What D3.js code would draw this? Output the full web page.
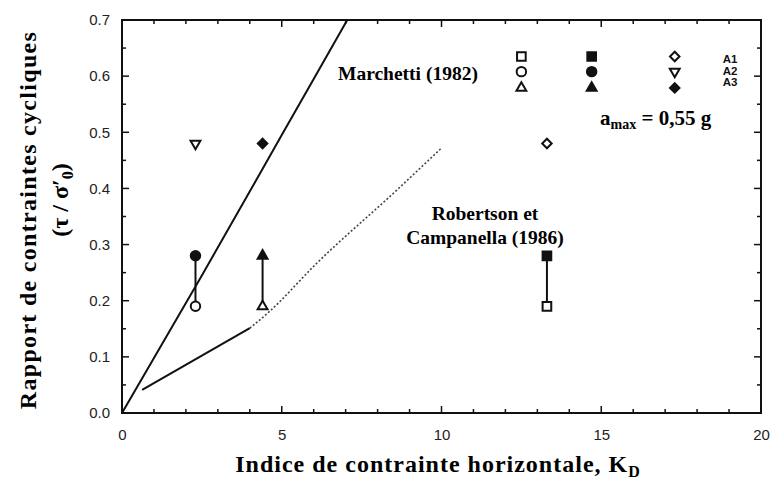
<!DOCTYPE html>
<html>
<head>
<meta charset="utf-8">
<script src="https://cdn.jsdelivr.net/npm/d3@7"></script>
<style>
  body { margin: 0; background: #fff; }
  svg { display: block; }
</style>
</head>
<body>
<div id="chart"></div>
<script>
// Data
var xTicks = [0, 5, 10, 15, 20];
var yTicks = [0.0, 0.1, 0.2, 0.3, 0.4, 0.5, 0.6, 0.7];

// essais : K_D, tau/sigma'0, symbole
var points = [
  { k: 2.3,  r: 0.19, sym: "circle",   fill: false },
  { k: 2.3,  r: 0.28, sym: "circle",   fill: true },
  { k: 2.3,  r: 0.48, sym: "triDown",  fill: false },
  { k: 4.4,  r: 0.19, sym: "triangle", fill: false },
  { k: 4.4,  r: 0.28, sym: "triangle", fill: true },
  { k: 4.4,  r: 0.48, sym: "diamond",  fill: true },
  { k: 13.3, r: 0.19, sym: "square",   fill: false },
  { k: 13.3, r: 0.28, sym: "square",   fill: true },
  { k: 13.3, r: 0.48, sym: "diamond",  fill: false }
];

// liaisons verticales entre paires
var links = [
  { k: 2.3,  from: 0.19, to: 0.28 },
  { k: 4.4,  from: 0.19, to: 0.28 },
  { k: 13.3, from: 0.19, to: 0.28 }
];

// légende (symboles)
var legendMarks = [
  { k: 12.5, r: 0.635, sym: "square",   fill: false },
  { k: 12.5, r: 0.608, sym: "circle",   fill: false },
  { k: 12.5, r: 0.579, sym: "triangle", fill: false },
  { k: 14.7, r: 0.635, sym: "square",   fill: true },
  { k: 14.7, r: 0.608, sym: "circle",   fill: true },
  { k: 14.7, r: 0.579, sym: "triangle", fill: true },
  { k: 17.3, r: 0.635, sym: "diamond",  fill: false },
  { k: 17.3, r: 0.608, sym: "triDown",  fill: false },
  { k: 17.3, r: 0.579, sym: "diamond",  fill: true }
];
var legendLabels = ["A1", "A2", "A3"];
var legendLabelY = [0.631, 0.609, 0.589];

// courbes
var marchetti = [[0, 0], [2.5, 0.245], [5, 0.495], [7.05, 0.7]];
var robertsonSolid = [[0.63, 0.041], [4.0, 0.151]];
var robertsonDotted = [[4.0, 0.151], [4.6, 0.18], [6.1, 0.267], [8.6, 0.397], [10.0, 0.472]];

var width = 773, height = 485;
var padLeft = 122, padRight = 761, padTop = 20, padBottom = 413;

var svg = d3.select("#chart").append("svg")
  .attr("width", width)
  .attr("height", height);

var x = d3.scaleLinear().domain([0, 20]).range([padLeft, padRight]);
var y = d3.scaleLinear().domain([0, 0.7]).range([padBottom, padTop]);

// Frame
svg.append("rect")
  .attr("x", padLeft).attr("y", padTop)
  .attr("width", padRight - padLeft).attr("height", padBottom - padTop)
  .style("fill", "none").style("stroke", "#111").style("stroke-width", 2);

// ticks inward
var xMinor = d3.range(0, 21, 1);
var yMinor = d3.range(0, 15).map(function (i) { return i * 0.05; });
var tg = svg.append("g").style("stroke", "#111").style("stroke-width", 1.5);
xMinor.forEach(function (v) {
  var len = v % 5 === 0 ? 7 : 4;
  tg.append("line").attr("x1", x(v)).attr("x2", x(v)).attr("y1", padBottom).attr("y2", padBottom - len);
  tg.append("line").attr("x1", x(v)).attr("x2", x(v)).attr("y1", padTop).attr("y2", padTop + len);
});
yMinor.forEach(function (v, i) {
  var len = i % 2 === 0 ? 7 : 4;
  tg.append("line").attr("x1", padLeft).attr("x2", padLeft + len).attr("y1", y(v)).attr("y2", y(v));
  tg.append("line").attr("x1", padRight).attr("x2", padRight - len).attr("y1", y(v)).attr("y2", y(v));
});

// Axis labels via d3 axes (labels only)
var xAxis = d3.axisBottom(x).tickValues(xTicks).tickSize(0).tickPadding(16).tickFormat(d3.format("d"));
var yAxis = d3.axisLeft(y).tickValues(yTicks).tickSize(0).tickPadding(12).tickFormat(d3.format(".1f"));

var gx = svg.append("g").attr("transform", "translate(0," + padBottom + ")").call(xAxis);
var gy = svg.append("g").attr("transform", "translate(" + padLeft + ",0)").call(yAxis);
[gx, gy].forEach(function (g) {
  g.select(".domain").remove();
  g.selectAll("text")
    .style("font-family", "Liberation Sans, Arial, sans-serif")
    .style("font-size", "15px")
    .style("fill", "#222");
});

// Curves
var line = d3.line().x(function (d) { return x(d[0]); }).y(function (d) { return y(d[1]); });
var lineCurve = d3.line().curve(d3.curveMonotoneX).x(function (d) { return x(d[0]); }).y(function (d) { return y(d[1]); });

svg.append("path").datum(marchetti).attr("d", lineCurve)
  .style("fill", "none").style("stroke", "#111").style("stroke-width", 2);
svg.append("path").datum(robertsonSolid).attr("d", line)
  .style("fill", "none").style("stroke", "#111").style("stroke-width", 2);
svg.append("path").datum(robertsonDotted).attr("d", lineCurve)
  .style("fill", "none").style("stroke", "#444").style("stroke-width", 1.6)
  .style("stroke-dasharray", "2,2");

// vertical links
svg.selectAll(".link").data(links).enter().append("line")
  .attr("x1", function (d) { return x(d.k); })
  .attr("x2", function (d) { return x(d.k); })
  .attr("y1", function (d) { return y(d.from); })
  .attr("y2", function (d) { return y(d.to); })
  .style("stroke", "#111").style("stroke-width", 2);

// symbols
var symTypes = {
  circle: d3.symbolCircle,
  square: d3.symbolSquare,
  triangle: d3.symbolTriangle,
  triDown: d3.symbolTriangle,
  diamond: d3.symbolSquare
};
var symSize = { circle: 70, square: 75, triangle: 42, triDown: 42, diamond: 45 };

function drawMarks(data) {
  svg.selectAll(null).data(data).enter().append("path")
    .attr("d", function (d) { return d3.symbol().type(symTypes[d.sym]).size(symSize[d.sym])(); })
    .attr("transform", function (d) {
      var rot = d.sym === "triDown" ? 180 : (d.sym === "diamond" ? 45 : 0);
      return "translate(" + x(d.k) + "," + y(d.r) + ") rotate(" + rot + ")";
    })
    .style("fill", function (d) { return d.fill ? "#111" : "#fff"; })
    .style("stroke", "#111")
    .style("stroke-width", 2);
}
drawMarks(points);
drawMarks(legendMarks);

svg.selectAll(".leglab").data(legendLabels).enter().append("text")
  .attr("x", x(18.8))
  .attr("y", function (d, i) { return y(legendLabelY[i]); })
  .attr("dy", "0.35em")
  .style("font-family", "Liberation Sans, Arial, sans-serif")
  .style("font-weight", 700)
  .style("font-size", "11.5px")
  .style("fill", "#111")
  .text(function (d) { return d; });

// annotations
var serif = "Liberation Serif, Times New Roman, serif";
svg.append("text")
  .attr("x", 338).attr("y", 80)
  .style("font-family", serif).style("font-weight", 700).style("font-size", "19.5px")
  .text("Marchetti (1982)");

var amax = svg.append("text")
  .attr("x", 600).attr("y", 125)
  .style("font-family", serif).style("font-weight", 700).style("font-size", "21px");
amax.append("tspan").text("a");
amax.append("tspan").attr("dy", 4).style("font-size", "14px").text("max");
amax.append("tspan").attr("dy", -4).text(" = 0,55 g");

svg.append("text")
  .attr("x", 485).attr("y", 220).attr("text-anchor", "middle")
  .style("font-family", serif).style("font-weight", 700).style("font-size", "19.5px")
  .text("Robertson et");
svg.append("text")
  .attr("x", 485).attr("y", 244).attr("text-anchor", "middle")
  .style("font-family", serif).style("font-weight", 700).style("font-size", "19.5px")
  .text("Campanella (1986)");

// axis titles
var xt = svg.append("text")
  .attr("x", 438).attr("y", 472).attr("text-anchor", "middle")
  .style("font-family", serif).style("font-weight", 700).style("font-size", "24px")
  .style("letter-spacing", "1px");
xt.append("tspan").text("Indice de contrainte horizontale, K");
xt.append("tspan").attr("dy", 5).style("font-size", "16px").text("D");

svg.append("text")
  .attr("transform", "translate(36,220) rotate(-90)")
  .attr("text-anchor", "middle")
  .style("font-family", serif).style("font-weight", 700).style("font-size", "24px")
  .style("letter-spacing", "1.3px")
  .text("Rapport de contraintes cycliques");

var yt = svg.append("text")
  .attr("transform", "translate(68,200) rotate(-90)")
  .attr("text-anchor", "middle")
  .style("font-family", serif).style("font-weight", 700).style("font-size", "24px");
yt.append("tspan").text("(τ / σ′");
yt.append("tspan").attr("dy", 5).style("font-size", "16px").text("0");
yt.append("tspan").attr("dy", -5).text(")");
</script>
</body>
</html>
